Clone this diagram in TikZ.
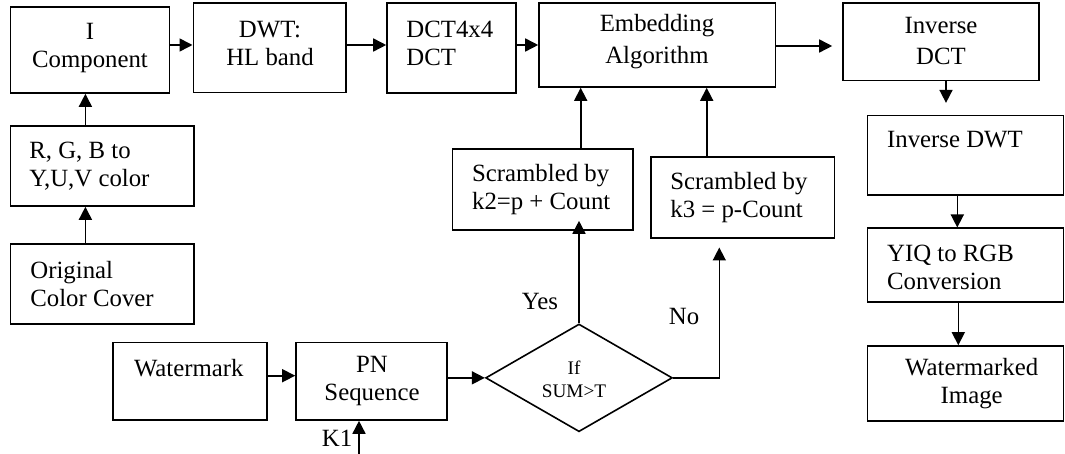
\documentclass[tikz,border=0pt]{standalone}
\usepackage{fontspec}
\setmainfont{Liberation Serif}
\usetikzlibrary{arrows.meta,shapes.geometric}
\begin{document}
\begin{tikzpicture}[x=0.5pt,y=-0.5pt,
  box/.style={draw,line width=0.8pt,inner sep=0pt},
  dbox/.style={draw,line width=0.8pt,inner sep=0pt,diamond},
  txt/.style={inner sep=0pt,font=\fontsize{12.4pt}{14pt}\selectfont},
  ltxt/.style={txt,align=left,anchor=west},
  ctxt/.style={txt,align=center},
  stxt/.style={inner sep=0pt,align=center,font=\fontsize{9.6pt}{11.3pt}\selectfont},
  arr/.style={line width=0.8pt,-{Triangle[length=6.5pt,width=6.5pt]}},
  ln/.style={line width=0.8pt}]
\useasboundingbox (0,0) rectangle (1065,454);
% boxes
\node[box,minimum width=79.6pt,minimum height=42.85pt] (icomp) at (89.9,50.15) {};
\node[box,minimum width=76.35pt,minimum height=44.7pt] (dwt) at (269.65,48) {};
\node[box,minimum width=64.35pt,minimum height=44.85pt] (dct) at (451.35,48.15) {};
\node[box,minimum width=118.25pt,minimum height=41.85pt] (embed) at (657.25,45.15) {};
\node[box,minimum width=98pt,minimum height=38.7pt] (invdct) at (941,42) {};
\node[box,minimum width=98pt,minimum height=39.65pt] (invdwt) at (965.3,155.35) {};
\node[box,minimum width=98pt,minimum height=36.7pt] (yiq) at (965.3,265) {};
\node[box,minimum width=98pt,minimum height=37.35pt] (wm) at (965.3,383.35) {};
\node[box,minimum width=91.85pt,minimum height=40pt] (rgb) at (102.15,166) {};
\node[box,minimum width=91.85pt,minimum height=39.85pt] (orig) at (102.15,284.15) {};
\node[box,minimum width=77pt,minimum height=38.85pt] (wmark) at (190,381.15) {};
\node[box,minimum width=75.5pt,minimum height=38.85pt] (pn) at (371.5,381.15) {};
\node[box,minimum width=90.2pt,minimum height=40.5pt] (k2) at (542.5,189.5) {};
\node[box,minimum width=91.8pt,minimum height=40.5pt] (k3) at (742.5,197.8) {};
\node[dbox,minimum width=93.35pt,minimum height=53.85pt] (dia) at (579,377.85) {};
% texts
\node[ctxt] (ticomp) at (90,48) {I\\Component};
\node[ctxt] (tdwt) at (270,43.3) {DWT:\\HL band};
\node[ltxt] (tdct) at (406,43.5) {DCT4x4\\DCT};
\node[ctxt,font=\fontsize{12.4pt}{16pt}\selectfont] (tembed) at (657,41.7) {Embedding\\Algorithm};
\node[ctxt,font=\fontsize{12.4pt}{15.5pt}\selectfont] (tinvdct) at (941,41) {Inverse\\DCT};
\node[ltxt] (tinvdwt) at (886.7,140) {Inverse DWT};
\node[ltxt] (tyiq) at (886.7,267.5) {YIQ to RGB\\Conversion};
\node[ctxt] (twm) at (971.7,384) {Watermarked\\Image};
\node[ltxt] (trgb) at (29,166) {R, G, B to\\Y,U,V color};
\node[ltxt] (torig) at (30,284.5) {Original\\Color Cover};
\node[ltxt] (twmark) at (133.6,367.7) {Watermark};
\node[ctxt] (tpn) at (372,381.5) {PN\\Sequence};
\node[ltxt] (tk2) at (471.7,190) {Scrambled by\\k2=p + Count};
\node[ltxt] (tk3) at (670,197.5) {Scrambled by\\k3 = p-Count};
\node[stxt] (tdia) at (574,379.3) {If\\SUM>T};
\node[txt] (yes) at (540,301.7) {Yes};
\node[txt] (no) at (684,316.7) {No};
\node[txt] (k1) at (337,438) {K1};
% connectors
\draw[arr] (85.4,0 |- orig.north) -- (85.4,0 |- rgb.south);
\draw[arr] (85.4,0 |- rgb.north) -- (85.4,0 |- icomp.south);
\draw[arr] (icomp.east |- 0,45) -- (dwt.west |- 0,45);
\draw[arr] (dwt.east |- 0,45) -- (dct.west |- 0,45);
\draw[arr] (dct.east |- 0,45) -- (embed.west |- 0,45);
\draw[arr,shorten >=5pt] (embed.east |- 0,46) -- (invdct.west |- 0,46);
\draw[arr,shorten >=6pt] (946,0 |- invdct.south) -- (946,0 |- invdwt.north);
\draw[arr] (957.3,0 |- invdwt.south) -- (957.3,0 |- yiq.north);
\draw[arr] (958.3,0 |- yiq.south) -- (958.3,0 |- wm.north);
\draw[arr] (wmark.east |- 0,375.7) -- (pn.west |- 0,375.7);
\draw[arr] (pn.east |- dia.west) -- (dia.west);
\coordinate (k1start) at (359,454);
\draw[arr] (k1start) -- (k1start |- pn.south);
\draw[arr,shorten >=-5pt] (dia.north) -- (dia.north |- k2.south);
\draw[arr] (580.7,0 |- k2.north) -- (580.7,0 |- embed.south);
\draw[arr] (706.7,0 |- k3.north) -- (706.7,0 |- embed.south);
\draw[arr,shorten >=4.2pt] (dia.east) -| (719.3,0 |- k3.south);
\end{tikzpicture}
\end{document}
